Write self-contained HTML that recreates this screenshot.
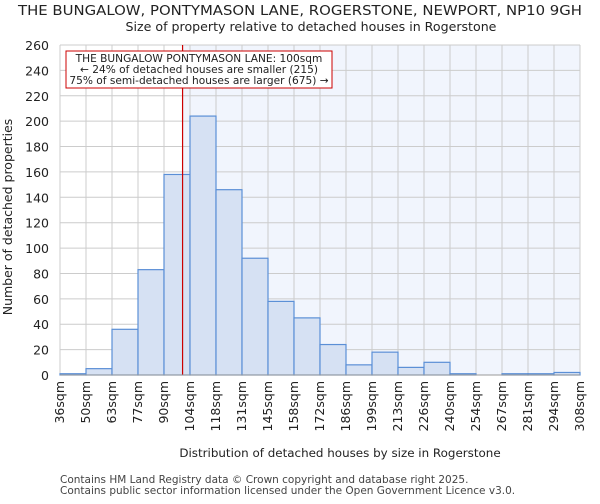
<!DOCTYPE html>
<html><head><meta charset="utf-8"><style>
body{margin:0;background:#fff;font-family:"DejaVu Sans","Liberation Sans",sans-serif;}
</style></head><body>
<svg width="600" height="500" xmlns="http://www.w3.org/2000/svg" font-family="DejaVu Sans, Liberation Sans, sans-serif">
<g id="chart"></g>
</svg>
<script>
const binEdges=[36,50,63,77,90,104,118,131,145,158,172,186,199,213,226,240,254,267,281,294,308];
const counts=[1,5,36,83,158,204,146,92,58,45,24,8,18,6,10,1,0,1,1,2];
const yTicks=[0,20,40,60,80,100,120,140,160,180,200,220,240,260];
const marker=100;
const L=60,R=580,T=45,B=375,yMax=260;
const ns="http://www.w3.org/2000/svg";
const g=document.getElementById('chart');
const xs=i=>L+i*(R-L)/(binEdges.length-1);
const xv=v=>{for(let i=0;i<binEdges.length-1;i++){if(v<=binEdges[i+1])return xs(i)+(v-binEdges[i])/(binEdges[i+1]-binEdges[i])*(xs(i+1)-xs(i));}return R;};
const ys=v=>B-v/yMax*(B-T);
function el(t,a,txt){const e=document.createElementNS(ns,t);for(const k in a)e.setAttribute(k,a[k]);if(txt!==undefined)e.textContent=txt;g.appendChild(e);return e;}
const mx=xv(marker);
let e;
e=el('rect',{x:L,y:T,width:mx-L,height:B-T,fill:'#ffffff'});


e=el('rect',{x:mx,y:T,width:R-mx,height:B-T,fill:'#f1f5fd'});


yTicks.forEach(v=>{
 e=el('line',{x1:L,x2:R,y1:ys(v),y2:ys(v),stroke:'#cccccc','stroke-width':1});
 
 
 e=el('text',{x:L-11,y:ys(v)+5,'text-anchor':'end','font-size':12.5,fill:'#222'},v);
 
 
});
binEdges.forEach((b,i)=>{
 e=el('line',{x1:xs(i),x2:xs(i),y1:T,y2:B,stroke:'#cccccc','stroke-width':1});
 
 
 const tx=xs(i)+4;
 e=el('text',{x:tx,y:381,'text-anchor':'end','font-size':12.5,fill:'#222',transform:`rotate(-90 ${tx} 381)`},b+'sqm');
 
 
});
counts.forEach((c,i)=>{
 e=el('rect',{x:xs(i),y:ys(c),width:xs(i+1)-xs(i),height:B-ys(c),fill:'#d6e1f3',stroke:'#5b8fd6','stroke-width':1.2});
 
 
});
e=el('line',{x1:mx,x2:mx,y1:T,y2:B,stroke:'#cc0000','stroke-width':1.2});


e=el('rect',{x:66,y:51,width:266,height:37,fill:'#fff',stroke:'#cc0000','stroke-width':1});


[['THE BUNGALOW PONTYMASON LANE: 100sqm',62],['← 24% of detached houses are smaller (215)',73],['75% of semi-detached houses are larger (675) →',84]].forEach(([t,y])=>{
 e=el('text',{x:199,y:y,'text-anchor':'middle','font-size':10.6,fill:'#222'},t);
 
 
});
e=el('line',{x1:L,x2:R,y1:B,y2:B,stroke:'#999','stroke-width':1});


e=el('text',{x:300,y:15,'text-anchor':'middle','font-size':13,fill:'#222',textLength:564,lengthAdjust:'spacingAndGlyphs'},'THE BUNGALOW, PONTYMASON LANE, ROGERSTONE, NEWPORT, NP10 9GH');


e=el('text',{x:311,y:31,'text-anchor':'middle','font-size':12.6,fill:'#222'},'Size of property relative to detached houses in Rogerstone');


e=el('text',{x:340,y:457,'text-anchor':'middle','font-size':11.9,fill:'#222'},'Distribution of detached houses by size in Rogerstone');


e=el('text',{x:12,y:217,'text-anchor':'middle','font-size':12.5,fill:'#222',transform:'rotate(-90 12 217)'},'Number of detached properties');


e=el('text',{x:60,y:483,'font-size':10.5,fill:'#444'},'Contains HM Land Registry data © Crown copyright and database right 2025.');


e=el('text',{x:60,y:494,'font-size':10.5,fill:'#444'},'Contains public sector information licensed under the Open Government Licence v3.0.');


</script>
</body></html>
